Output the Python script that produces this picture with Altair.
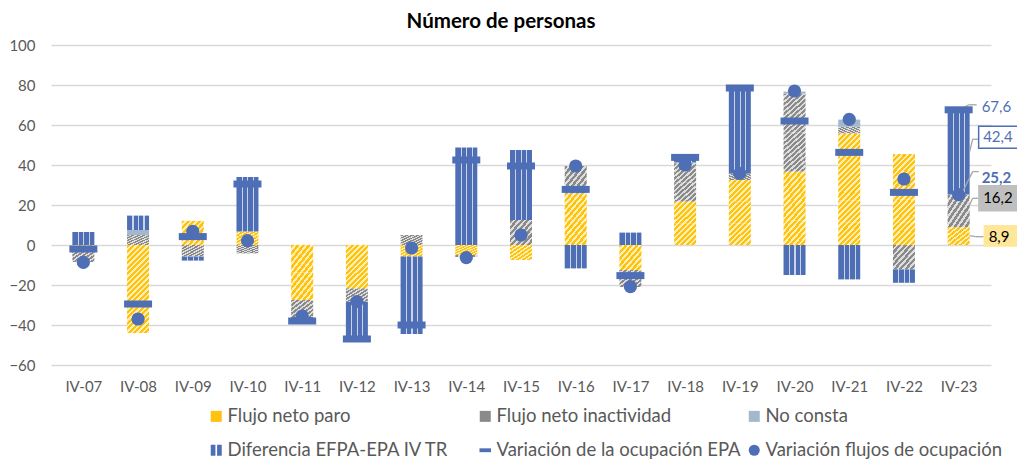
import altair as alt
import pandas as pd

# ---------------- data ----------------
cats = ["IV-07", "IV-08", "IV-09", "IV-10", "IV-11", "IV-12", "IV-13", "IV-14", "IV-15",
        "IV-16", "IV-17", "IV-18", "IV-19", "IV-20", "IV-21", "IV-22", "IV-23"]
flujo_paro = [-1.0, -44.0, 12.1, 6.7, -27.5, -21.7, -5.8, -5.0, -7.5, 25.8, -12.5, 21.7, 32.5, 36.7, 55.8, 45.5, 8.9]
flujo_inact = [-7.5, 5.0, -5.8, -4.2, -8.5, -6.7, 5.0, -1.0, 12.5, 13.7, -8.5, 19.2, 3.3, 39.0, 3.4, -12.2, 16.2]
no_consta = [0.0, 2.5, 0.0, 0.0, 0.0, 0.0, 0.0, 0.0, 0.0, 0.0, 0.0, 0.5, 0.0, 1.0, 3.5, 0.0, 0.1]
diferencia = [6.5, 7.2, -2.0, 27.3, -2.0, -18.7, -38.7, 48.8, 35.0, -11.7, 6.2, 3.5, 43.0, -15.0, -17.2, -6.7, 42.4]
var_epa = [-2.0, -29.5, 4.2, 30.5, -38.0, -47.0, -40.0, 42.5, 39.5, 27.8, -15.3, 43.8, 78.5, 62.0, 46.3, 26.3, 67.6]
var_flujos = [-8.7, -37.0, 6.8, 2.2, -35.5, -28.3, -1.5, -6.3, 5.0, 39.5, -20.8, 40.0, 35.8, 77.0, 62.8, 33.0, 25.2]

series_names = ["Flujo neto paro", "Flujo neto inactividad", "No consta",
                "Diferencia EFPA-EPA IV TR", "Variación de la ocupación EPA",
                "Variación flujos de ocupación"]

label_values = [67.6, 42.4, 25.2, 16.2, 8.9]
label_texts = ["67,6", "42,4", "25,2", "16,2", "8,9"]

title_text = "Número de personas"

# ---------------- styles ----------------
FONT = "Lato"
BLUE = "#4E6FB5"
BLUE_LIGHT = "#C9D3EA"
YELLOW = "#FFC20E"
YELLOW_LIGHT = "#FFF0B8"
GRAY = "#8A8A8A"
GRAY_LIGHT = "#DEDEDE"
NC_COLOR = "#A2B8CC"
GRID = "#D9D9D9"
TXT = "#595959"
LEADER = "#A6A6A6"
BAR_W = 22
PX_PER_UNIT = 2.0  # 320 px / 160 units

label_style = [
    dict(color=BLUE, weight="normal", box=None, dx=23, dy=-3,
         leader=[(2, 0), (10, -5), (18, -5)]),
    dict(color=BLUE, weight="normal", box=(20, 60, -34, -12, "white", BLUE), dx=24.5, dy=-23,
         leader=[(11, -8.5), (14, -21), (20, -21)]),
    dict(color=BLUE, weight="bold", box=None, dx=23, dy=-17,
         leader=[(2.6, 0), (14, -23), (20, -23)]),
    dict(color="black", weight="normal", box=(19.5, 60, -27.6, -1, "#BFBFBF", None), dx=24.5, dy=-14.3,
         leader=[(11, -7.6), (14, -14.3), (19.5, -14.3)]),
    dict(color="black", weight="normal", box=(25, 60, -2.2, 19.5, "#FFE699", None), dx=30, dy=9.5,
         leader=[(11, 8.5), (17, 9.5), (25, 9.5)]),
]


def stripe_gradient(dark, light, n=8, duty=0.55, x2=1, y2=1):
    stops = []
    for k in range(n):
        a, b, c = k / n, (k + duty) / n, (k + 1) / n
        stops += [alt.GradientStop(color=dark, offset=a), alt.GradientStop(color=dark, offset=b),
                  alt.GradientStop(color=light, offset=b), alt.GradientStop(color=light, offset=c)]
    return alt.LinearGradient(gradient="linear", stops=stops, x1=0, y1=0, x2=x2, y2=y2)


def vertical_lines_gradient(base, line, centers=(0.27, 0.52, 0.77), w=0.05):
    stops = [alt.GradientStop(color=base, offset=0)]
    for c in centers:
        stops += [alt.GradientStop(color=base, offset=c - w / 2), alt.GradientStop(color=line, offset=c - w / 2),
                  alt.GradientStop(color=line, offset=c + w / 2), alt.GradientStop(color=base, offset=c + w / 2)]
    stops.append(alt.GradientStop(color=base, offset=1))
    return alt.LinearGradient(gradient="linear", stops=stops, x1=0, y1=0, x2=1, y2=0)


# ---------------- stacking (Excel style: positives up, negatives down) ----------------
segments = []
for i, c in enumerate(cats):
    pos = neg = 0.0
    for key, vals in (("paro", flujo_paro), ("inact", flujo_inact), ("nc", no_consta), ("dif", diferencia)):
        v = vals[i]
        if v >= 0:
            y0, y1 = pos, pos + v
            pos = y1
        else:
            y0, y1 = neg, neg + v
            neg = y1
        segments.append(dict(idx=i, cat=c, s=key, y0=y0, y1=y1))

# split hatched segments into near-square chunks so the diagonal hatching stays ~45 deg
chunks = []
for seg in segments:
    if seg["s"] in ("paro", "inact") and seg["y1"] != seg["y0"]:
        length_px = abs(seg["y1"] - seg["y0"]) * PX_PER_UNIT
        n = max(1, round(length_px / BAR_W))
        step = (seg["y1"] - seg["y0"]) / n
        for k in range(n):
            chunks.append(dict(idx=seg["idx"], s=seg["s"], y0=seg["y0"] + k * step, y1=seg["y0"] + (k + 1) * step))

seg_df = pd.DataFrame(segments)
chunk_df = pd.DataFrame(chunks)
pts_df = pd.DataFrame({"idx": list(range(len(cats))), "cat": cats, "epa": var_epa, "flujos": var_flujos})

label_expr = "[" + ",".join("'" + c + "'" for c in cats) + "][datum.value]"

X = alt.X("idx:Q", scale=alt.Scale(domain=[-0.5, len(cats) - 0.5], nice=False, zero=False),
          axis=alt.Axis(values=list(range(len(cats))), labelExpr=label_expr, title=None, grid=False,
                        domain=False, ticks=False, labelFont=FONT, labelFontSize=15, labelColor=TXT,
                        labelPadding=14, labelAngle=0))
Y_SCALE = alt.Scale(domain=[-60, 100], nice=False, zero=False)
Y_AXIS = alt.Axis(values=list(range(-60, 101, 20)), title=None, domain=False, ticks=False,
                  labelFont=FONT, labelFontSize=15, labelColor=TXT, labelPadding=16,
                  gridColor=GRID, gridWidth=1.3)

paro_bars = alt.Chart(chunk_df).transform_filter("datum.s == 'paro'").mark_bar(
    width=BAR_W, fill=stripe_gradient(YELLOW, YELLOW_LIGHT), strokeWidth=0
).encode(x=X, y=alt.Y("y0:Q", scale=Y_SCALE, axis=Y_AXIS), y2="y1:Q")

inact_bars = alt.Chart(chunk_df).transform_filter("datum.s == 'inact'").mark_bar(
    width=BAR_W, fill=stripe_gradient(GRAY, GRAY_LIGHT), strokeWidth=0
).encode(x=X, y=alt.Y("y0:Q", scale=Y_SCALE, axis=Y_AXIS), y2="y1:Q")

nc_bars = alt.Chart(seg_df).transform_filter("datum.s == 'nc' && datum.y0 != datum.y1").mark_bar(
    width=BAR_W, fill=NC_COLOR, strokeWidth=0
).encode(x=X, y=alt.Y("y0:Q", scale=Y_SCALE, axis=Y_AXIS), y2="y1:Q")

dif_bars = alt.Chart(seg_df).transform_filter("datum.s == 'dif' && datum.y0 != datum.y1").mark_bar(
    width=BAR_W, fill=vertical_lines_gradient(BLUE, BLUE_LIGHT), strokeWidth=0
).encode(x=X, y=alt.Y("y0:Q", scale=Y_SCALE, axis=Y_AXIS), y2="y1:Q")

dots = alt.Chart(pts_df).mark_circle(size=175, color=BLUE, opacity=1).encode(
    x=X, y=alt.Y("flujos:Q", scale=Y_SCALE, axis=Y_AXIS))

dashes = alt.Chart(pts_df).mark_tick(orient="horizontal", size=28, thickness=7, color=BLUE, opacity=1).encode(
    x=X, y=alt.Y("epa:Q", scale=Y_SCALE, axis=Y_AXIS))

# ---------------- data labels for the last quarter ----------------
last = len(cats) - 1
leaders, boxes, texts = [], [], []
for v, t, st in zip(label_values, label_texts, label_style):
    ldf = pd.DataFrame({"idx": [last], "v": [v], "t": [t]})
    base = alt.Chart(ldf)
    pts = st["leader"]
    for (ax, ay), (bx, by) in zip(pts[:-1], pts[1:]):
        leaders.append(base.mark_rule(color=LEADER, strokeWidth=1.3, xOffset=ax, x2Offset=bx,
                                      yOffset=ay, y2Offset=by).encode(
            x=X, x2="idx:Q", y=alt.Y("v:Q", scale=Y_SCALE, axis=Y_AXIS), y2="v:Q"))
    if st["box"] is not None:
        x0, x1, yy0, yy1, fill, stroke = st["box"]
        kw = dict(fill=fill, xOffset=x0, x2Offset=x1, yOffset=yy0, y2Offset=yy1)
        if stroke:
            kw.update(stroke=stroke, strokeWidth=1.5)
        else:
            kw.update(strokeWidth=0)
        boxes.append(base.mark_rect(**kw).encode(
            x=X, x2="idx:Q", y=alt.Y("v:Q", scale=Y_SCALE, axis=Y_AXIS), y2="v:Q"))
    texts.append(base.mark_text(align="left", baseline="middle", dx=st["dx"], dy=st["dy"], font=FONT,
                                fontSize=15, fontWeight=st["weight"], color=st["color"]).encode(
        x=X, y=alt.Y("v:Q", scale=Y_SCALE, axis=Y_AXIS), text="t:N"))

# ---------------- chart title (real text, placed above the plot area) ----------------
title_layer = alt.Chart(pd.DataFrame({"t": [title_text]})).mark_text(
    font=FONT, fontSize=20.5, fontWeight="bold", color="black", align="center", baseline="alphabetic"
).encode(x=alt.value(450), y=alt.value(-17.5), text="t:N")

# ---------------- legend (scale-driven, no visible marks) ----------------
legend_colors = [YELLOW, GRAY, NC_COLOR, BLUE, BLUE, BLUE]
legend_shapes = ["M-1,-1H1V1H-1Z", "M-1,-1H1V1H-1Z", "M-1,-1H1V1H-1Z",
                 "M-1,-1H-0.15V1H-1Z M0.15,-1H1V1H0.15Z", "M-1.05,-0.35H1.05V0.35H-1.05Z", "circle"]
leg = alt.Legend(orient="none", legendX=156, legendY=362, columns=3, title=None, direction="horizontal",
                 labelFont=FONT, labelFontSize=18.5, labelColor=TXT, symbolSize=121, symbolStrokeWidth=0,
                 columnPadding=4, rowPadding=15, labelOffset=2, gridAlign="all", labelLimit=500)
legend_layer = alt.Chart(pd.DataFrame({"series": series_names})).transform_filter("false").mark_point(
    filled=True, opacity=1).encode(
    x=alt.value(0), y=alt.value(0),
    fill=alt.Fill("series:N", scale=alt.Scale(domain=series_names, range=legend_colors), legend=leg),
    shape=alt.Shape("series:N", scale=alt.Scale(domain=series_names, range=legend_shapes), legend=leg),
)

chart = alt.layer(paro_bars, inact_bars, nc_bars, dif_bars, *leaders, dots, dashes, *boxes, *texts,
                  title_layer, legend_layer).properties(
    width=940, height=320,
    autosize=alt.AutoSizeParams(type="none"),
    padding={"left": 43, "top": 37, "right": 26, "bottom": 95},
).configure_view(stroke=None)

chart.save("out.html", embed_options={"renderer": "svg", "actions": False})
